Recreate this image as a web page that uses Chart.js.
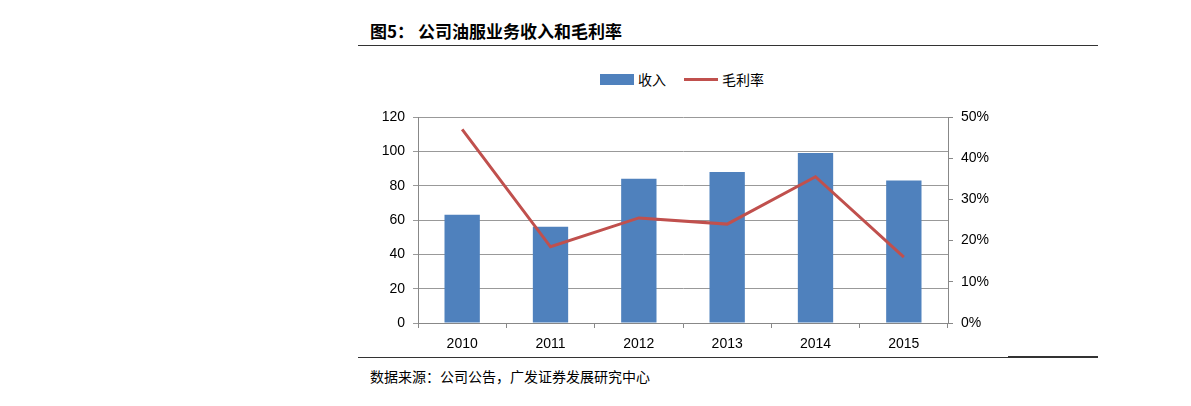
<!DOCTYPE html><html><head><meta charset="utf-8">
<script src="https://cdn.jsdelivr.net/npm/chart.js@4"></script>
<style>
body{margin:0;width:1191px;height:406px;background:#fff;position:relative;font-family:"Noto Sans CJK SC";overflow:hidden}
#t{position:absolute;left:370px;top:18px;font-size:17px;font-weight:bold;color:#000}
#l1{position:absolute;left:358px;top:45px;width:740px;height:1px;background:#333}
#l2{position:absolute;left:358px;top:357px;width:740px;height:1px;background:#333}
#l3{position:absolute;left:1008px;top:356px;width:90px;height:2px;background:#333}
#s{position:absolute;left:370px;top:366px;font-size:14px;color:#000}
#lg{position:absolute;left:600px;top:69px;font-size:14px;color:#000;display:flex;align-items:center}
#c{position:absolute;left:0;top:100px}
</style></head><body>
<div id="t">图5：&nbsp;公司油服业务收入和毛利率</div><div id="l1"></div>
<div id="lg"><span style="display:inline-block;width:34px;height:11px;background:#4F81BD;margin-right:4px"></span>收入<span style="display:inline-block;width:34px;height:3px;background:#C0504D;margin:0 4px 0 18px"></span>毛利率</div>
<canvas id="c" width="1191" height="260"></canvas>
<div id="l2"></div><div id="l3"></div>
<div id="s">数据来源：公司公告，广发证券发展研究中心</div>
<script>
const categories=["2010","2011","2012","2013","2014","2015"];
const revenue=[63,56,84,88,99,83];
const margin=[47,18.5,25.5,24,35.5,16];
const f={family:"Liberation Sans",size:14};
new Chart(document.getElementById('c'),{
data:{labels:categories,datasets:[
{type:'line',data:margin,yAxisID:'y1',borderColor:'#C0504D',borderWidth:3,pointRadius:0,tension:0},
{type:'bar',data:revenue,yAxisID:'y',backgroundColor:'#4F81BD',barPercentage:0.4,categoryPercentage:1}]},
options:{responsive:false,animation:false,plugins:{legend:{display:false},tooltip:{enabled:false}},
layout:{padding:{left:360,right:190,top:17,bottom:12}},
scales:{
x:{grid:{drawOnChartArea:false,tickLength:5,color:'#888'},border:{color:'#888'},ticks:{color:'#000',font:f,padding:8},afterFit:a=>{a.height=25}},
y:{min:0,max:120,ticks:{stepSize:20,color:'#000',font:f,padding:8},grid:{color:'#999',tickLength:5},border:{color:'#888'},afterFit:a=>{a.width=58}},
y1:{position:'right',min:0,max:50,ticks:{stepSize:10,callback:v=>v+'%',color:'#000',font:f,padding:8},grid:{drawOnChartArea:false,tickLength:5,color:'#888'},border:{color:'#888'},afterFit:a=>{a.width=53}}
}}});
</script></body></html>
